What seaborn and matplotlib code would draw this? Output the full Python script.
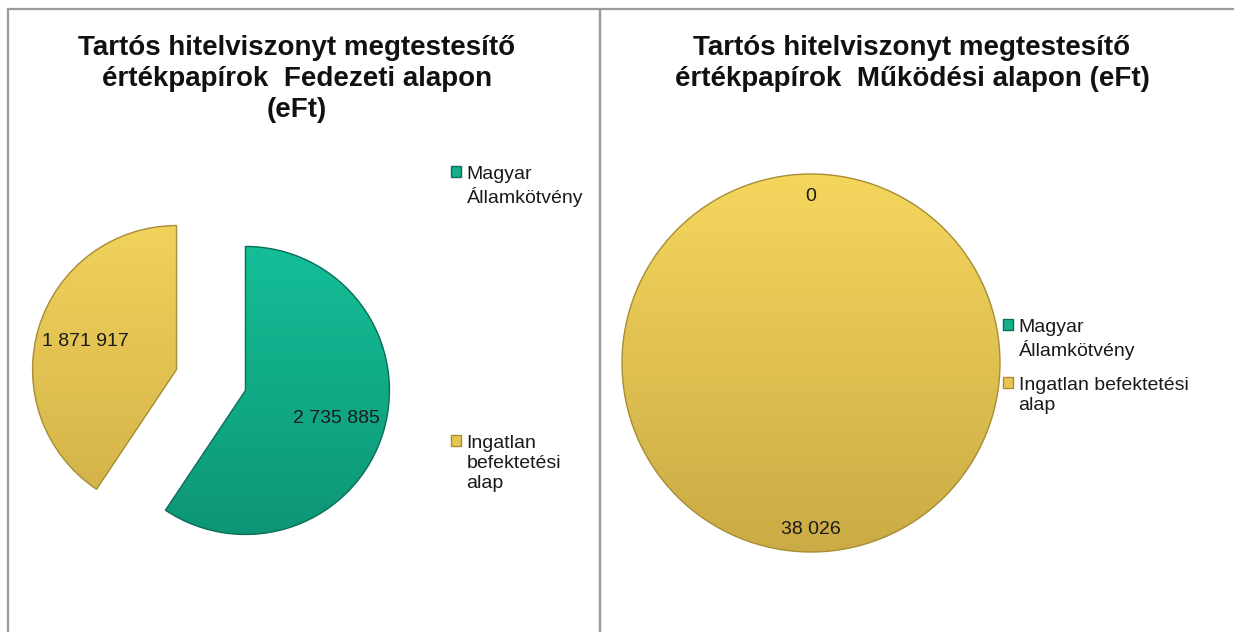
import numpy as np
import matplotlib
matplotlib.use("Agg")
import matplotlib.pyplot as plt
import seaborn as sns
from matplotlib.patches import Patch, Rectangle, Wedge, Circle
from matplotlib.colors import LinearSegmentedColormap

# ---- data ----
categories = ["Magyar\nÁllamkötvény", "Ingatlan\nbefektetési\nalap"]
categories_right = ["Magyar\nÁllamkötvény", "Ingatlan befektetési\nalap"]
fedezeti_values = [2735885, 1871917]
mukodesi_values = [0, 38026]
title_left = "Tartós hitelviszonyt megtestesítő\nértékpapírok  Fedezeti alapon\n(eFt)"
title_right = "Tartós hitelviszonyt megtestesítő\nértékpapírok  Működési alapon (eFt)"

colors = ["#13b08c", "#e6c650"]
grad_top = ["#16c9a0", "#f7d85e"]
grad_bot = ["#0c8e70", "#c8a944"]
edges = ["#0a6e58", "#a88d36"]

sns.set_theme(style="white")
plt.rcParams["font.family"] = ["Liberation Sans", "DejaVu Sans"]

W, H = 1234, 632
fig = plt.figure(figsize=(W / 100, H / 100), dpi=100)
fig.patch.set_facecolor("white")

FS = 14


def fmt(v):
    return f"{v:,}".replace(",", " ")


def add_axes_px(cx, cy, half):
    return fig.add_axes([(cx - half) / W, (H - cy - half) / H, 2 * half / W, 2 * half / H])


def shade(ax, wedges, lim):
    for i, w in enumerate(wedges):
        cmap = LinearSegmentedColormap.from_list("g", [grad_bot[i], grad_top[i]])
        grad = np.linspace(0, 1, 256).reshape(-1, 1)
        im = ax.imshow(grad, extent=[-lim, lim, -lim, lim], origin="lower",
                       cmap=cmap, aspect="auto", zorder=w.get_zorder() + 0.1)
        im.set_clip_path(w)


# ---- left pie ----
L1 = 1.45
ax1 = add_axes_px(211, 380, 144 * L1)
wedges1, texts1, auto1 = ax1.pie(
    fedezeti_values, colors=colors, startangle=90, counterclock=False,
    explode=[0.25, 0.25], autopct="%1.0f", pctdistance=0.66,
    wedgeprops=dict(edgecolor="none", linewidth=0),
    textprops=dict(fontsize=FS, color="#1a1a1a"))
for t, v in zip(auto1, fedezeti_values):
    t.set_text(fmt(v))
    t.set_zorder(5)
ax1.set_xlim(-L1, L1)
ax1.set_ylim(-L1, L1)
ax1.set_aspect("equal")
shade(ax1, wedges1, L1)
for i, w in enumerate(wedges1):
    ax1.add_patch(Wedge(w.center, w.r, w.theta1, w.theta2,
                        fill=False, edgecolor=edges[i], linewidth=1.0, zorder=4))
ax1.axis("off")

# ---- right pie ----
L2 = 1.1
ax2 = add_axes_px(811, 363, 189 * L2)
wedges2, texts2, auto2 = ax2.pie(
    mukodesi_values, colors=colors, startangle=90, counterclock=False,
    autopct="%1.0f", pctdistance=0.88,
    wedgeprops=dict(edgecolor="none", linewidth=0),
    textprops=dict(fontsize=FS, color="#1a1a1a"))
for t, v in zip(auto2, mukodesi_values):
    t.set_text(fmt(v))
    t.set_zorder(5)
ax2.set_xlim(-L2, L2)
ax2.set_ylim(-L2, L2)
ax2.set_aspect("equal")
shade(ax2, wedges2, L2)
for i, w in enumerate(wedges2):
    if mukodesi_values[i] > 0:
        ax2.add_patch(Circle(w.center, w.r, fill=False,
                             edgecolor=edges[i], linewidth=1.0, zorder=4))
ax2.axis("off")

# ---- legends ----
handles = [Patch(facecolor=colors[0], edgecolor=edges[0]),
           Patch(facecolor=colors[1], edgecolor=edges[1])]
leg1 = fig.legend(handles, categories, loc="upper left",
                  bbox_to_anchor=(451 / W, 1 - 166 / H), frameon=False,
                  fontsize=FS, handlelength=0.5, handleheight=0.5,
                  handletextpad=0.3, labelspacing=11.7, borderaxespad=0,
                  borderpad=0)
leg2 = fig.legend(handles, categories_right, loc="upper left",
                  bbox_to_anchor=(1003 / W, 1 - 319 / H), frameon=False,
                  fontsize=FS, handlelength=0.5, handleheight=0.5,
                  handletextpad=0.3, labelspacing=0.85, borderaxespad=0,
                  borderpad=0)
for leg in (leg1, leg2):
    for txt in leg.get_texts():
        txt.set_color("#1a1a1a")
        txt.set_linespacing(1.25)
    try:
        for col in leg._legend_handle_box.get_children():
            for hp in col.get_children():
                hp.align = "top"
    except Exception:
        pass

# ---- titles ----
fig.text(297 / W, 1 - 35 / H, title_left, ha="center", va="top",
         fontsize=20, fontweight="bold", color="#111111", linespacing=1.24,
         multialignment="center")
fig.text(912 / W, 1 - 35 / H, title_right, ha="center", va="top",
         fontsize=20, fontweight="bold", color="#111111", linespacing=1.24,
         multialignment="center")

# ---- panel borders ----
bc = "#9a9a9a"
fig.add_artist(Rectangle((8 / W, -0.05), (600 - 8) / W, 1.05 - 9 / H,
                         transform=fig.transFigure, fill=False, edgecolor=bc, linewidth=1.6))
fig.add_artist(Rectangle((600 / W, -0.05), 1.0, 1.05 - 9 / H,
                         transform=fig.transFigure, fill=False, edgecolor=bc, linewidth=1.6))

fig.savefig("out.png", dpi=100, facecolor="white")
